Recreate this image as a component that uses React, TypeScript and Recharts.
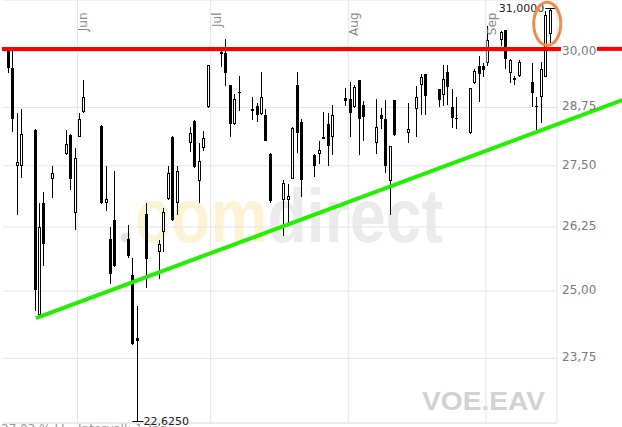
import React from 'react';
import {
  ComposedChart,
  Bar,
  XAxis,
  YAxis,
  CartesianGrid,
  ReferenceLine,
  ReferenceDot,
} from 'recharts';

// daily candles, Vienna trading days (holidays have no candle)
const dates = [
  '2017-05-16', '2017-05-17', '2017-05-18', '2017-05-19', '2017-05-22', '2017-05-23', '2017-05-24', '2017-05-26', '2017-05-29', '2017-05-30', '2017-05-31',
  '2017-06-01', '2017-06-02', '2017-06-06', '2017-06-07', '2017-06-08', '2017-06-09', '2017-06-12', '2017-06-13', '2017-06-14', '2017-06-16',
  '2017-06-19', '2017-06-20', '2017-06-21', '2017-06-22', '2017-06-23', '2017-06-26', '2017-06-27', '2017-06-28', '2017-06-29', '2017-06-30',
  '2017-07-03', '2017-07-04', '2017-07-05', '2017-07-06', '2017-07-07', '2017-07-10', '2017-07-11', '2017-07-12', '2017-07-13', '2017-07-14',
  '2017-07-17', '2017-07-18', '2017-07-19', '2017-07-20', '2017-07-21', '2017-07-24', '2017-07-25', '2017-07-26', '2017-07-27', '2017-07-28', '2017-07-31',
  '2017-08-01', '2017-08-02', '2017-08-03', '2017-08-04', '2017-08-07', '2017-08-08', '2017-08-09', '2017-08-10', '2017-08-11',
  '2017-08-14', '2017-08-16', '2017-08-17', '2017-08-18', '2017-08-21', '2017-08-22', '2017-08-23', '2017-08-24', '2017-08-25',
  '2017-08-28', '2017-08-29', '2017-08-30', '2017-08-31',
  '2017-09-01', '2017-09-04', '2017-09-05', '2017-09-06', '2017-09-07', '2017-09-08', '2017-09-11', '2017-09-12', '2017-09-13', '2017-09-14', '2017-09-15',
];

const opens = [
  30.07, 29.63, 27.49, 27.49, 28.26, 24.55, 26.74, 27.23, 27.74, 28.15, 26.52,
  28.11, 28.64, 28.34, 26.74, 26.01, 26.39, 26.01, 25.3, 24.13, 26.51,
  25.75, 26.15, 26.81, 28.12, 26.74, 27.99, 28.45, 27.19, 27.87, 28.75,
  29.98, 29.96, 29.24, 28.38, 29.09, 28.71, 28.78, 28.6, 28.58, 27.75,
  26.79, 26.79, 27.23, 29.24, 28.43, 27.73, 27.74, 28.07, 28.38, 28.12, 28.96,
  28.94, 28.75, 29.35, 28.8, 27.99, 28.58, 28.5, 27.18, 28.91,
  28.19, 28.71, 29.24, 29.49, 29.15, 29.02, 29.53, 28.76, 28.52,
  28.19, 29.28, 29.66, 29.66,
  29.73, 30.26, 30.49, 29.52, 29.35, 29.44, 29.31, 28.78, 28.98, 29.43, 30.41,
];

const highs = [
  30.1, 30.01, 28.62, 28.71, 28.28, 26.74, 26.95, 27.5, 28.26, 28.17, 27.87,
  28.62, 29.35, 28.36, 27.5, 26.24, 27.39, 26.29, 25.64, 24.72, 26.74,
  25.99, 26.63, 27.49, 28.14, 27.5, 28.32, 28.47, 27.99, 28.24, 29.7,
  30.1, 30.28, 29.25, 29.04, 29.45, 28.99, 28.85, 29.54, 28.71, 27.76,
  27.2, 27.12, 28.32, 29.54, 28.49, 27.74, 28.02, 28.65, 28.62, 28.8, 29.17,
  29.31, 29.24, 29.36, 28.89, 28.94, 28.73, 28.92, 27.92, 28.92,
  28.84, 29.22, 29.49, 29.5, 29.16, 29.69, 29.69, 29.15, 28.98,
  29.18, 29.61, 29.89, 29.74,
  30.59, 30.47, 30.5, 29.83, 29.44, 29.8, 29.75, 28.97, 29.77, 30.95, 31.0,
];

const lows = [
  29.52, 28.22, 26.49, 27.25, 24.63, 24.5, 25.49, 26.84, 27.72, 26.99, 26.19,
  28.1, 28.63, 26.72, 26.58, 25.13, 25.47, 25.64, 24.0, 22.625, 25.05,
  25.23, 25.76, 26.8, 26.36, 26.48, 27.79, 27.45, 26.74, 27.81, 28.74,
  29.64, 29.23, 28.11, 28.37, 28.68, 28.47, 28.43, 28.59, 28.02, 26.74,
  26.06, 26.26, 27.22, 27.77, 26.86, 27.27, 27.54, 28.06, 27.49, 27.73, 28.78,
  28.11, 28.74, 27.73, 28.03, 27.75, 28.29, 27.35, 26.49, 28.13,
  27.99, 28.12, 28.58, 28.58, 28.76, 28.78, 28.8, 28.31, 28.29,
  28.18, 29.27, 28.87, 29.43,
  29.66, 30.13, 29.6, 29.29, 29.24, 29.43, 28.76, 28.26, 28.41, 29.42, 30.2,
];

const closes = [
  29.63, 28.49, 27.57, 28.18, 25.01, 26.24, 25.92, 27.36, 27.97, 27.22, 27.66,
  28.49, 28.99, 26.74, 26.81, 25.32, 25.49, 25.68, 24.02, 24.07, 25.62,
  25.91, 26.54, 27.34, 26.38, 27.39, 28.2, 27.47, 27.6, 28.08, 29.69,
  29.94, 29.52, 28.38, 28.93, 29.06, 28.68, 28.58, 28.99, 28.03, 26.78,
  27.15, 26.87, 28.31, 28.19, 27.21, 27.49, 27.83, 28.12, 27.91, 28.58, 28.89,
  28.62, 29.19, 28.49, 28.54, 28.33, 28.49, 27.49, 27.91, 28.15,
  28.28, 28.98, 29.43, 29.0, 28.92, 29.39, 29.19, 28.51, 28.49,
  29.17, 29.56, 29.5, 29.57,
  30.26, 30.45, 29.82, 29.8, 29.41, 29.77, 29.06, 28.75, 29.6, 30.85, 30.96,
];

const monthStarts = ['2017-06-01', '2017-07-01', '2017-08-01', '2017-09-01'];
const monthLabels = ['Jun', 'Jul', 'Aug', 'Sep'];
const yTicks = [23.75, 25, 26.25, 27.5, 28.75, 30];

// drawn lines (red resistance, green support), in days since May 1 / price
const resistanceLevel = 30.06;
const supportFrom = { day: 21.66, value: 24.49 };
const supportTo = { day: 153.7, value: 28.91 };
const circleAt = { day: 136.8, value: 30.64 };

const base = Date.UTC(2017, 4, 1);
const toDay = (s: string) => (Date.parse(s) - base) / 86400000;

const data = dates.map((d, i) => ({
  day: toDay(d) + 0.5,
  open: opens[i],
  high: highs[i],
  low: lows[i],
  close: closes[i],
}));

const xDomain = [14.23, 139.0];
const yDomain = [22.61, 31.2];
const font = '"DejaVu Sans", sans-serif';

const maxIdx = highs.indexOf(Math.max(...highs));
const minIdx = lows.indexOf(Math.min(...lows));
const fmt4 = (v: number) => v.toFixed(4).replace('.', ',');

const Candle = (props: any) => {
  const { x, y, width, height, payload } = props;
  if (x == null || y == null) return null;
  const top = Math.min(y, y + height);
  const bottom = Math.max(y, y + height);
  const { open, high, low, close } = payload;
  const span = Math.log(high) - Math.log(low);
  const py = (v: number) =>
    span > 0 ? top + ((Math.log(high) - Math.log(v)) / span) * (bottom - top) : top;
  const cx = Math.floor(x + width / 2);
  const up = close >= open;
  const bt = Math.round(py(Math.max(open, close)));
  const bb = Math.round(py(Math.min(open, close)));
  const h = Math.max(1, bb - bt);
  return (
    <g>
      <line x1={cx + 0.5} x2={cx + 0.5} y1={Math.round(top)} y2={Math.round(bottom)} stroke="#000" strokeWidth={1} />
      {up ? (
        <rect x={cx - 0.5} y={bt + 0.5} width={2} height={Math.max(1, h - 1)} fill="#fff" stroke="#000" strokeWidth={1} />
      ) : (
        <rect x={cx - 1} y={bt} width={3} height={h} fill="#000" />
      )}
    </g>
  );
};

const YTick = ({ x, y, payload }: any) => (
  <text x={x + 5} y={y + 3} fontSize={12} fill="#7a7a7a" fontFamily={font}>
    {Number(payload.value).toFixed(2).replace('.', ',')}
  </text>
);

export default function App() {
  return (
    <div style={{ position: 'absolute', left: 0, top: 0, width: 622, height: 427, background: '#fff', overflow: 'hidden' }}>
      <svg width={622} height={427} style={{ position: 'absolute', left: 0, top: 0 }}>
        <circle cx={125.5} cy={237.5} r={5} fill="#e2e2e2" />
        <text x={135} y={242} fontSize={76} fontWeight="bold" fontFamily='"Liberation Sans", Arial, sans-serif' textLength={308} lengthAdjust="spacingAndGlyphs">
          <tspan fill="#fcf2d4">com</tspan>
          <tspan fill="#ebebeb">direct</tspan>
        </text>
        <text x={422} y={410} fontSize={26} fontWeight="bold" fill="#d2d2d2" fontFamily='"Liberation Sans", Arial, sans-serif' textLength={123} lengthAdjust="spacingAndGlyphs">
          VOE.EAV
        </text>
        <text x={1} y={432.6} fontSize={12} fill="#999" fontFamily={font}>27,03 % LL</text>
        <text x={78} y={432.6} fontSize={12} fill="#999" fontFamily={font}>Intervall: 1 Tag</text>
      </svg>
      <div style={{ position: 'absolute', left: 0, top: 0 }}>
        <ComposedChart width={622} height={427} data={data} margin={{ top: 0, right: 0, bottom: 4, left: 3 }}>
          <CartesianGrid horizontal vertical={false} stroke="#e4e4e4" />
          <XAxis type="number" dataKey="day" domain={xDomain} allowDataOverflow hide />
          <YAxis
            orientation="right"
            scale="log"
            type="number"
            domain={yDomain}
            allowDataOverflow
            ticks={yTicks}
            width={65}
            axisLine={false}
            tickLine={false}
            tickSize={0}
            tickMargin={0}
            tick={<YTick />}
          />
          {monthStarts.map((m) => (
            <ReferenceLine key={m} x={toDay(m)} stroke="#e4e4e4" ifOverflow="visible" />
          ))}
          <ReferenceLine x={xDomain[1]} stroke="#e4e4e4" ifOverflow="visible" />
          <ReferenceLine y={yDomain[0]} stroke="#e4e4e4" ifOverflow="visible" />
          {monthStarts.map((m, i) => (
            <ReferenceDot
              key={'l' + m}
              x={toDay(m)}
              y={yDomain[1]}
              ifOverflow="visible"
              shape={(p: any) => (
                <text
                  transform={`translate(${p.cx + 10},${p.cy + 12.5}) rotate(-90)`}
                  textAnchor="end"
                  fontSize={12}
                  fill="#8a8a8a"
                  fontFamily={font}
                >
                  {monthLabels[i]}
                </text>
              )}
            />
          ))}
          <Bar
            dataKey={(d: any) => [d.low, d.high]}
            barSize={5}
            shape={<Candle />}
            isAnimationActive={false}
          />
          <ReferenceLine
            segment={[{ x: 13.99, y: resistanceLevel }, { x: 139.9, y: resistanceLevel }]}
            stroke="#ff0000"
            strokeWidth={4}
            ifOverflow="visible"
          />
          <ReferenceLine
            segment={[{ x: 148.0, y: resistanceLevel }, { x: 153.7, y: resistanceLevel }]}
            stroke="#ff0000"
            strokeWidth={4}
            ifOverflow="visible"
          />
          <ReferenceLine
            segment={[{ x: supportFrom.day, y: supportFrom.value }, { x: supportTo.day, y: supportTo.value }]}
            stroke="#22f000"
            strokeWidth={4}
            ifOverflow="visible"
          />
          <ReferenceDot
            x={data[maxIdx].day}
            y={highs[maxIdx]}
            ifOverflow="visible"
            shape={(p: any) => (
              <g>
                <line x1={p.cx - 5} x2={p.cx + 5} y1={Math.round(p.cy) + 0.5} y2={Math.round(p.cy) + 0.5} stroke="#000" />
                <text x={p.cx - 6} y={p.cy + 4} textAnchor="end" fontSize={11} fill="#222" fontFamily={font}>
                  {fmt4(highs[maxIdx])}
                </text>
              </g>
            )}
          />
          <ReferenceDot
            x={data[minIdx].day}
            y={lows[minIdx]}
            ifOverflow="visible"
            shape={(p: any) => (
              <g>
                <line x1={p.cx - 5} x2={p.cx + 6} y1={Math.round(p.cy) - 0.5} y2={Math.round(p.cy) - 0.5} stroke="#000" />
                <text x={p.cx + 6} y={p.cy + 3} fontSize={11} fill="#222" fontFamily={font}>
                  {fmt4(lows[minIdx])}
                </text>
              </g>
            )}
          />
          <ReferenceDot
            x={circleAt.day}
            y={circleAt.value}
            ifOverflow="visible"
            shape={(p: any) => (
              <ellipse cx={p.cx} cy={p.cy} rx={13.5} ry={21.5} fill="none" stroke="#f28a4a" strokeWidth={3} />
            )}
          />
        </ComposedChart>
      </div>
    </div>
  );
}
